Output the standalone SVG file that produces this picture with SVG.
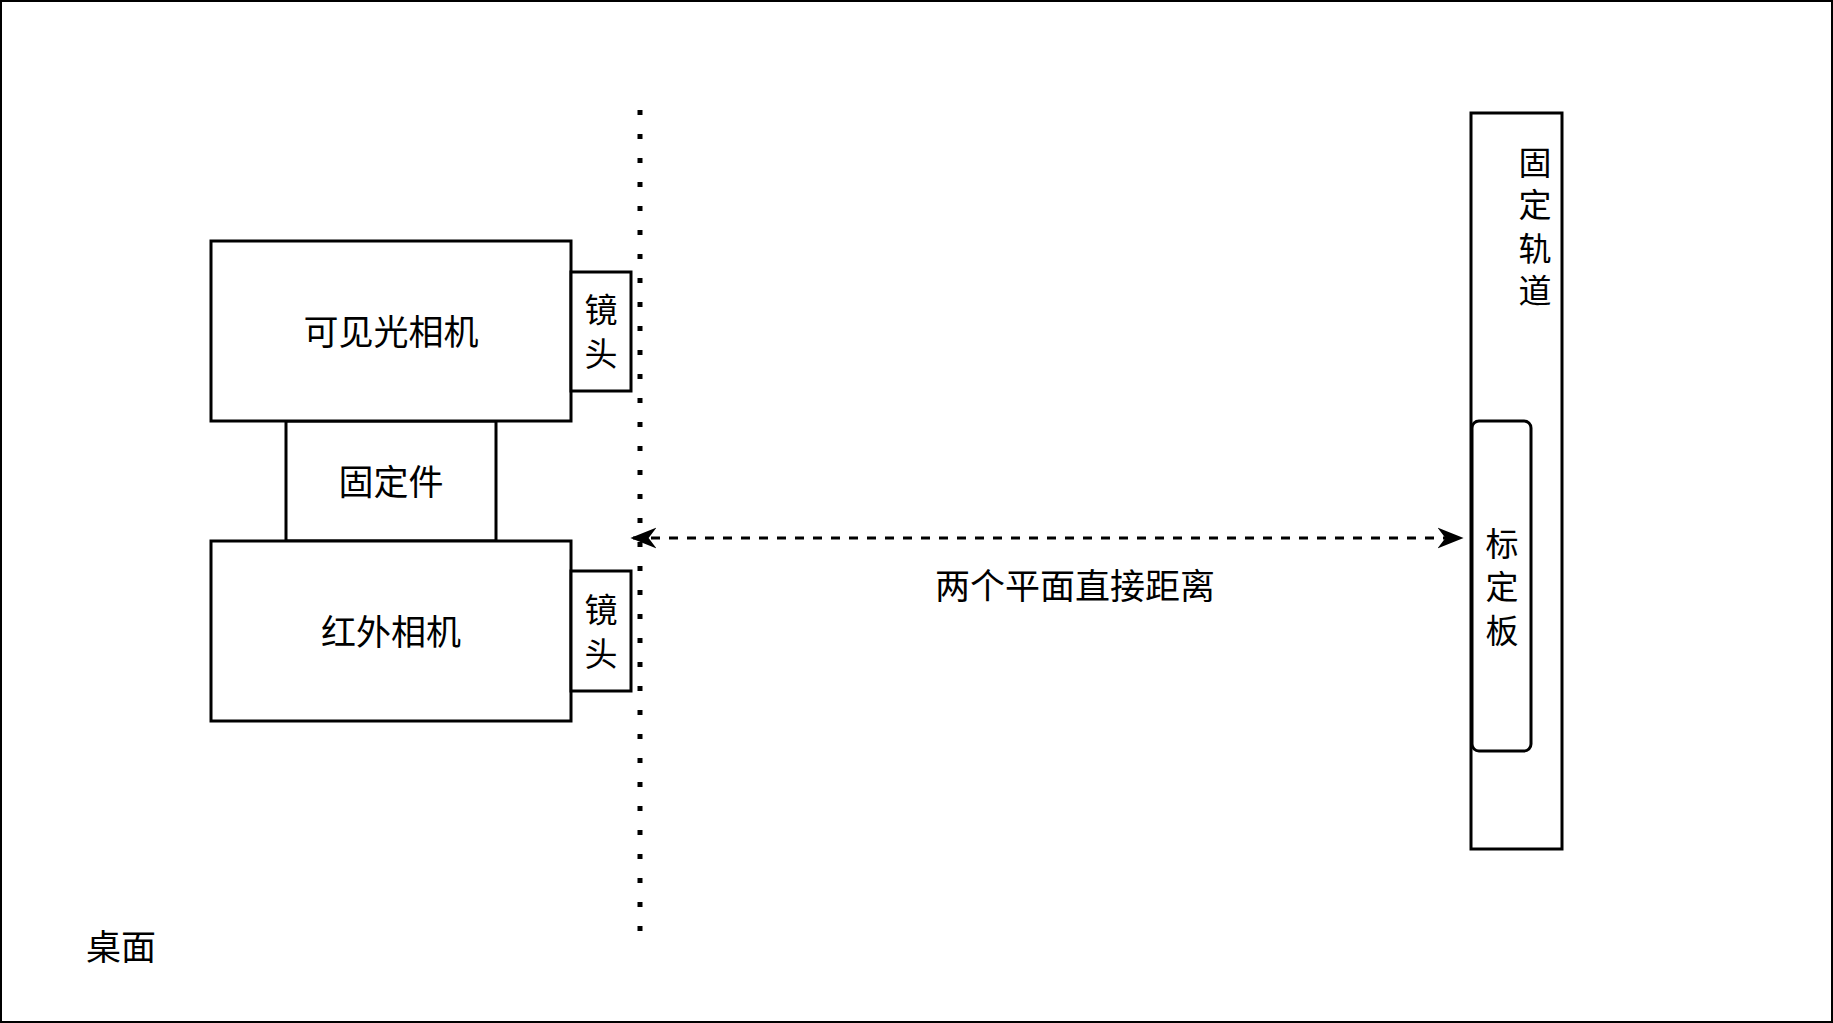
<svg xmlns="http://www.w3.org/2000/svg" width="1833" height="1023" viewBox="0 0 1833 1023">
<style>
text{font-family:"Noto Sans CJK SC","Liberation Sans",sans-serif;font-size:35px;fill:#000;text-anchor:middle;dominant-baseline:central}
text.v{font-size:33px}
.b{fill:#fff;stroke:#000;stroke-width:3}
</style>
<defs><marker id="a" viewBox="0 0 20 20" refX="18" refY="10" markerWidth="26" markerHeight="26" orient="auto-start-reverse" markerUnits="userSpaceOnUse"><path d="M0,2 L20,10 L0,18 L6,10 Z" fill="#000"/></marker></defs>
<rect x="1" y="1" width="1831" height="1021" fill="#fff" stroke="#000" stroke-width="2"/>
<g id="desk"><text x="121" y="944">桌面</text></g>
<g id="fixture"><rect class="b" x="286" y="421" width="210" height="120"/><text x="391" y="479">固定件</text></g>
<g id="visible"><rect class="b" x="211" y="241" width="360" height="180"/><text x="391" y="329">可见光相机</text></g>
<g id="lens1"><rect class="b" x="571" y="272" width="60" height="119"/><text class="v" x="601" y="308">镜</text><text class="v" x="601" y="352">头</text></g>
<g id="ir"><rect class="b" x="211" y="541" width="360" height="180"/><text x="391" y="629">红外相机</text></g>
<g id="lens2"><rect class="b" x="571" y="571" width="60" height="120"/><text class="v" x="601" y="608">镜</text><text class="v" x="601" y="652">头</text></g>
<g id="rail"><rect class="b" x="1471" y="113" width="91" height="736"/><text class="v" x="1535" y="161">固</text><text class="v" x="1535" y="203">定</text><text class="v" x="1535" y="247">轨</text><text class="v" x="1535" y="289">道</text></g>
<g id="plate"><rect class="b" x="1472" y="421" width="59" height="330" rx="7"/><text class="v" x="1502" y="542">标</text><text class="v" x="1502" y="585">定</text><text class="v" x="1502" y="629">板</text></g>
<g id="connectors">
<line x1="633" y1="538" x2="1461" y2="538" stroke="#000" stroke-width="3" stroke-dasharray="9 9" marker-start="url(#a)" marker-end="url(#a)"/>
<line x1="640" y1="110" x2="640" y2="932" stroke="#000" stroke-width="5" stroke-dasharray="5 19"/>
<text x="1075" y="583">两个平面直接距离</text>
</g>
</svg>
